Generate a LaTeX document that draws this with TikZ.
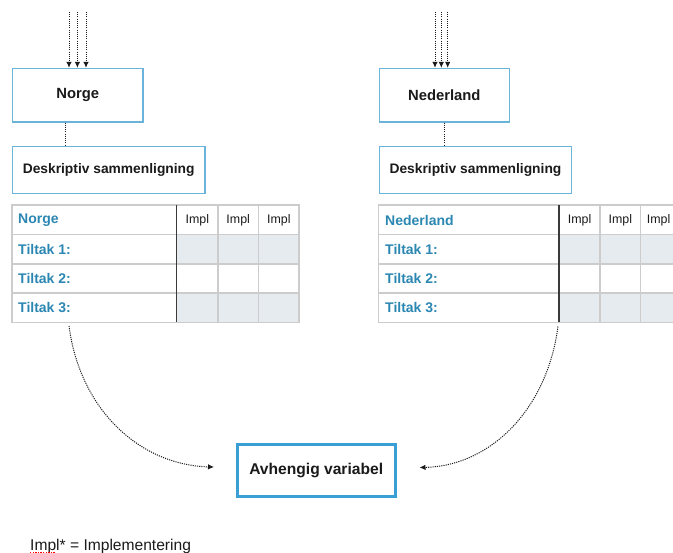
\documentclass[tikz,border=0pt]{standalone}
\usepackage{fontspec}
\setmainfont{Liberation Sans}
\usetikzlibrary{arrows.meta}
\definecolor{boxblue}{HTML}{6AB4DC}
\definecolor{thickblue}{HTML}{3A9FD4}
\definecolor{hdrblue}{HTML}{2B87B2}
\definecolor{gridgray}{HTML}{CCCCCC}
\definecolor{cellshade}{HTML}{E5EBEF}
\definecolor{darkline}{HTML}{3A3A3A}
\definecolor{txtblack}{HTML}{1A1A1A}
\begin{document}
\begin{tikzpicture}[x=1pt,y=-1pt,
  bluebox/.style={draw=boxblue,line width=1.2pt,fill=white,inner sep=0pt,text=txtblack},
  thickbox/.style={draw=thickblue,line width=3pt,fill=white,inner sep=0pt,text=txtblack},
  titlefont/.style={font=\fontsize{14.8}{16}\selectfont\bfseries},
  descfont/.style={font=\fontsize{13.8}{16}\selectfont\bfseries},
  hdrtext/.style={anchor=west,inner sep=0pt,text=hdrblue,font=\fontsize{14}{16}\selectfont\bfseries},
  impltext/.style={inner sep=0pt,text=txtblack,font=\fontsize{12.4}{14}\selectfont},
  gridline/.style={draw=gridgray,line width=1.1pt},
  dotline/.style={draw=txtblack,line width=1pt,dash pattern=on 1.1pt off 1.1pt},
  dotarrow/.style={dotline,-{Latex[length=6pt,width=5.5pt]}},
]
\useasboundingbox (0,0) rectangle (673,553);

% ---------- Left column ----------
\node[bluebox,titlefont,minimum width=130.5pt,minimum height=53.5pt] (norge) at (77.7,95.2) {Norge};
\node[bluebox,descfont,minimum width=192.5pt,minimum height=47.5pt] (descL) at (108.7,170) {Deskriptiv sammenligning};
\coordinate (inL1) at (69,12);
\coordinate (inL2) at (77.4,12);
\coordinate (inL3) at (86,12);
\foreach \i in {1,2,3} \draw[dotarrow] (inL\i) -- (inL\i |- norge.north);
\draw[dotline] (norge.south -| 65.7,0) -- (descL.north -| 65.7,0);

% left table
\fill[cellshade] (176.7,234.5) rectangle (299,264);
\fill[cellshade] (176.7,293) rectangle (299,322.5);
\foreach \yy in {234.5,264,293} \draw[gridline] (12,\yy) -- (299,\yy);
\foreach \xx in {218,258.5} \draw[gridline] (\xx,205) -- (\xx,322.5);
\node[gridline,draw,minimum width=287pt,minimum height=117.5pt,inner sep=0pt] (tblL) at (155.5,263.75) {};
\draw[draw=darkline,line width=1.1pt] (176.7,205) -- (176.7,322.5);
\node[hdrtext] (tLh) at (18,220) {Norge};
\node[hdrtext] (tL1) at (18,249.5) {Tiltak 1:};
\node[hdrtext] (tL2) at (18,278.5) {Tiltak 2:};
\node[hdrtext] (tL3) at (18,308) {Tiltak 3:};
\node[impltext] (iL1) at (197.3,220) {Impl};
\node[impltext] (iL2) at (238.2,220) {Impl};
\node[impltext] (iL3) at (278.8,220) {Impl};

% ---------- Right column ----------
\node[bluebox,titlefont,minimum width=130pt,minimum height=53.5pt] (nederland) at (444.3,95.2) {Nederland};
\node[bluebox,descfont,minimum width=192.5pt,minimum height=47.5pt] (descR) at (475.5,170) {Deskriptiv sammenligning};
\coordinate (inR1) at (435,12);
\coordinate (inR2) at (441.3,12);
\coordinate (inR3) at (447.7,12);
\foreach \i in {1,2,3} \draw[dotarrow] (inR\i) -- (inR\i |- nederland.north);
\draw[dotline] (nederland.south -| 444,0) -- (descR.north -| 444,0);

% right table (cut at the right edge)
\begin{scope}
\clip (0,0) rectangle (673,553);
\fill[cellshade] (559,234.5) rectangle (690,264);
\fill[cellshade] (559,293) rectangle (690,322.5);
\foreach \yy in {234.5,264,293} \draw[gridline] (378.5,\yy) -- (690,\yy);
\foreach \xx in {600,640.7} \draw[gridline] (\xx,205) -- (\xx,322.5);
\node[gridline,draw,minimum width=302.5pt,minimum height=117.5pt,inner sep=0pt] (tblR) at (529.75,263.75) {};
\draw[draw=darkline,line width=1.1pt] (559,205) -- (559,322.5);
\node[impltext] (iR1) at (579.6,220) {Impl};
\node[impltext] (iR2) at (620.3,220) {Impl};
\node[impltext,anchor=west] (iR3) at (646.7,220) {Impl};
\end{scope}
\node[hdrtext] (tRh) at (385,220) {Nederland};
\node[hdrtext] (tR1) at (385,249.5) {Tiltak 1:};
\node[hdrtext] (tR2) at (385,278.5) {Tiltak 2:};
\node[hdrtext] (tR3) at (385,308) {Tiltak 3:};

% ---------- Dependent variable ----------
\node[thickbox,font=\fontsize{15.6}{18}\selectfont\bfseries,minimum width=158pt,minimum height=52pt] (avh) at (316.2,471) {Avhengig variabel};

\coordinate (cL) at (69,326);
\coordinate (cR) at (558,326.5);
\coordinate (eL) at (214,467);
\coordinate (eR) at (419.5,467.5);
\draw[dotarrow] (cL) .. controls (80,410) and (140,465) .. (eL);
\draw[dotarrow] (cR) .. controls (547,410) and (490,466) .. (eR);

% ---------- Footer ----------
\node[anchor=base west,inner sep=0pt,text=txtblack,font=\fontsize{15.6}{18}\selectfont] (foot) at (30,550.5) {Impl* = Implementering};
\draw[red,line width=1.2pt,dash pattern=on 1.3pt off 1.3pt] (foot.base west) ++(0,2) coordinate (sq1) -- ++(25,0);
\end{tikzpicture}
\end{document}
